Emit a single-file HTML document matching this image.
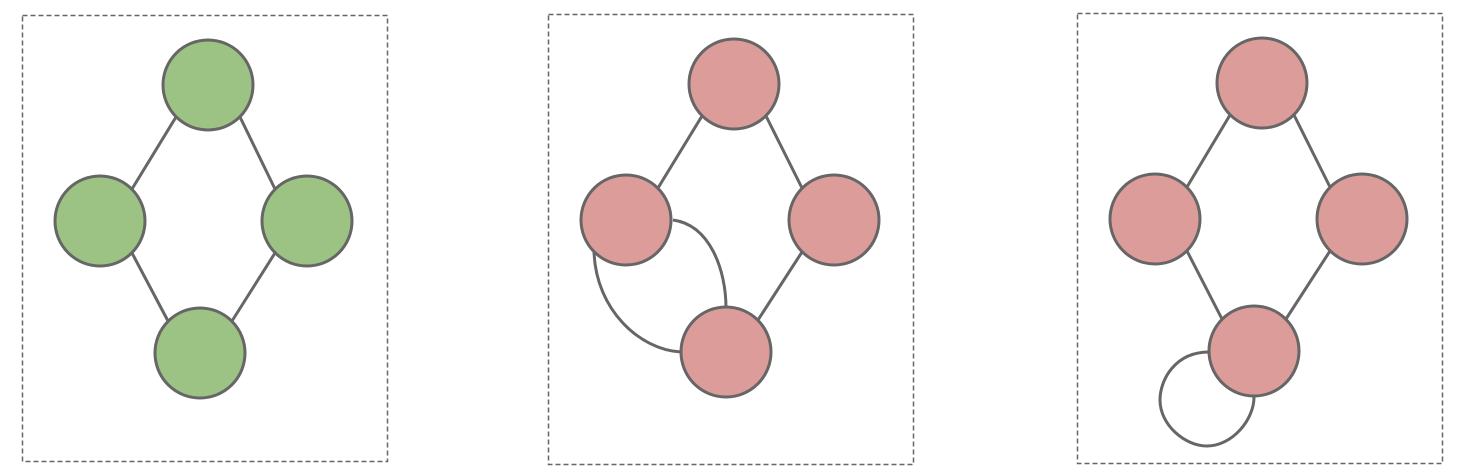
<!DOCTYPE html>
<html><head><style>html,body{margin:0;padding:0;background:#fff;}svg{display:block;}</style></head>
<body>
<svg width="1472" height="476" viewBox="0 0 1472 476" xmlns="http://www.w3.org/2000/svg">
<g fill="none" stroke="#666" stroke-width="1.5" stroke-dasharray="5,3">
<rect x="22.5" y="15.5" width="365" height="446"/>
<rect x="548.5" y="14.5" width="365" height="450"/>
<rect x="1077.5" y="13.5" width="365" height="450"/>
</g>
<g fill="none" stroke="#666" stroke-width="3">
<line x1="176" y1="117" x2="132" y2="189"/><line x1="240" y1="117" x2="275" y2="189"/>
<line x1="132" y1="253" x2="168" y2="321"/><line x1="275" y1="253" x2="232" y2="321"/>
<line x1="702" y1="116" x2="658" y2="188"/><line x1="766" y1="116" x2="802" y2="188"/>
<line x1="802" y1="252" x2="758" y2="320"/>
<path d="M673,220 C710,225 726,270 726,308"/>
<path d="M594,252 C596,310 640,350 681,352"/>
<line x1="1230" y1="115" x2="1187" y2="187"/><line x1="1294" y1="115" x2="1330" y2="187"/>
<line x1="1187" y1="251" x2="1222" y2="319"/><line x1="1330" y1="251" x2="1286" y2="319"/>
<path d="M1209,352 C1175,352 1160,380 1160,400 C1160,425 1185,446 1207,446 C1232,446 1254,420 1254,397"/>
</g>
<g fill="#9dc384" stroke="#666" stroke-width="3">
<circle cx="208" cy="85" r="45"/><circle cx="100" cy="221" r="45"/>
<circle cx="307" cy="221" r="45"/><circle cx="200" cy="353" r="45"/>
</g>
<g fill="#dc9c9a" stroke="#666" stroke-width="3">
<circle cx="734" cy="84" r="45"/><circle cx="626" cy="220" r="45"/>
<circle cx="834" cy="220" r="45"/><circle cx="726" cy="352" r="45"/>
<circle cx="1262" cy="83" r="45"/><circle cx="1155" cy="219" r="45"/>
<circle cx="1362" cy="219" r="45"/><circle cx="1254" cy="351" r="45"/>
</g>
</svg>
</body></html>
